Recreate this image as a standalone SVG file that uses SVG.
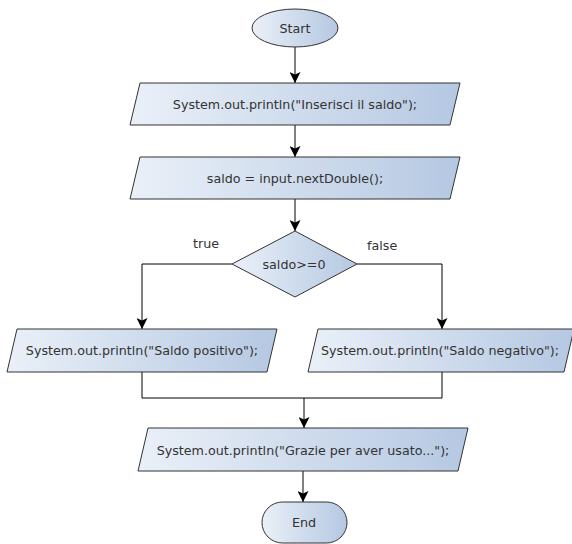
<svg xmlns="http://www.w3.org/2000/svg" width="572" height="544" viewBox="0 0 572 544">
<style>
  .shape { fill: url(#g); stroke: #333; stroke-width: 1; }
  .lbl { font-family: "DejaVu Sans", sans-serif; font-size: 12.7px; fill: #333; text-anchor: middle; dominant-baseline: central; }
  .edge { fill: none; stroke: #000; stroke-width: 1; }
  .arr { marker-end: url(#ah); }
  .elbl { font-family: "DejaVu Sans", sans-serif; font-size: 12.7px; fill: #333; }
</style>
<defs>
  <linearGradient id="g" x1="0" y1="0" x2="1" y2="0">
    <stop offset="0" stop-color="#eaf0f8"/>
    <stop offset="1" stop-color="#b5c8e2"/>
  </linearGradient>
  <marker id="ah" markerWidth="11" markerHeight="11" viewBox="0 0 11 11" refX="11" refY="5.5" orient="auto" markerUnits="userSpaceOnUse">
    <path d="M0,0 L11,5.5 L0,11 L2.5,5.5 Z" fill="#000"/>
  </marker>
</defs>
<rect width="572" height="544" fill="#fff"/>
<g id="connectors">
  <path class="edge arr" d="M295,47 V83"/>
  <path class="edge arr" d="M295,125 V157"/>
  <path class="edge arr" d="M295,199 V231"/>
  <path class="edge arr" d="M232,264 H142 V329"/>
  <path class="edge arr" d="M357,264 H442 V329"/>
  <path class="edge" d="M142,372 V398 H304"/>
  <path class="edge" d="M442,372 V398 H304"/>
  <path class="edge arr" d="M304,398 V428"/>
  <path class="edge arr" d="M303,471 V502"/>
  <text class="elbl" x="219" y="248" text-anchor="end">true</text>
  <text class="elbl" x="367" y="250">false</text>
</g>
<g id="start">
  <ellipse class="shape" cx="295" cy="28" rx="43" ry="19"/>
  <text class="lbl" x="295" y="28">Start</text>
</g>
<g id="print1">
  <polygon class="shape" points="140,83 460,83 450,125 130,125"/>
  <text class="lbl" x="295" y="104">System.out.println("Inserisci il saldo");</text>
</g>
<g id="input">
  <polygon class="shape" points="140,157 460,157 450,199 130,199"/>
  <text class="lbl" x="295" y="178">saldo = input.nextDouble();</text>
</g>
<g id="decision">
  <polygon class="shape" points="295,231 357,264 295,297 232,264"/>
  <text class="lbl" x="294" y="264">saldo&gt;=0</text>
</g>
<g id="positivo">
  <polygon class="shape" points="17,329 277,329 267,372 7,372"/>
  <text class="lbl" x="142" y="350">System.out.println("Saldo positivo");</text>
</g>
<g id="negativo">
  <polygon class="shape" points="318,329 574,329 564,372 308,372"/>
  <text class="lbl" x="440" y="350">System.out.println("Saldo negativo");</text>
</g>
<g id="grazie">
  <polygon class="shape" points="148,428 468,428 458,471 138,471"/>
  <text class="lbl" x="303" y="450">System.out.println("Grazie per aver usato...");</text>
</g>
<g id="end">
  <rect class="shape" x="262" y="502" width="85" height="41" rx="20.5"/>
  <text class="lbl" x="304" y="522">End</text>
</g>
</svg>
